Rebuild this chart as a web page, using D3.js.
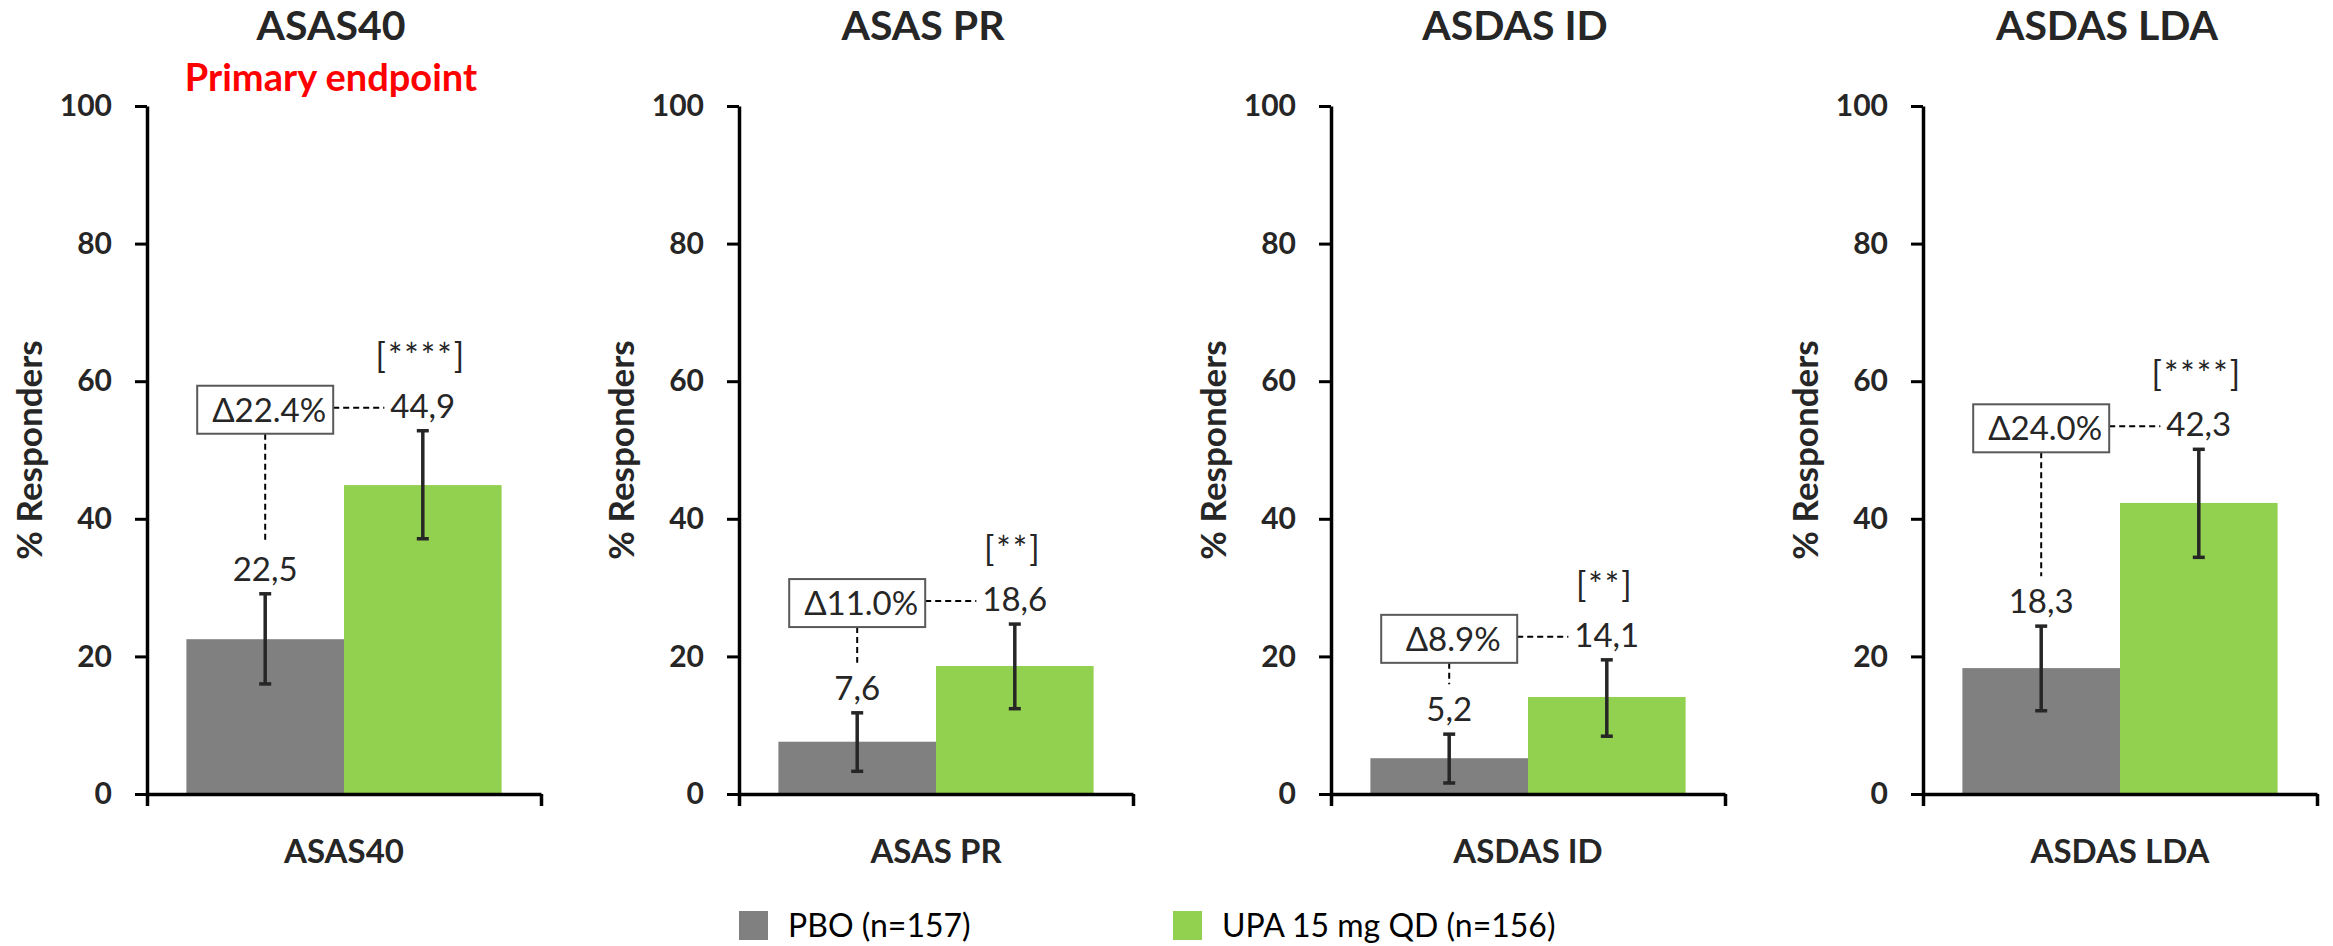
<!DOCTYPE html>
<html><head><meta charset="utf-8">
<script src="https://cdn.jsdelivr.net/npm/d3@7"></script>
<style>
body{margin:0;background:#fff}
svg{display:block}
text{font-family:Lato,"Open Sans",sans-serif}
</style>
</head><body>
<svg id="chart" width="2333" height="946"></svg>
<script>
// ---------- data ----------
const categories = ["ASAS40", "ASAS PR", "ASDAS ID", "ASDAS LDA"];
const subtitles = ["Primary endpoint", "", "", ""];
const seriesKeys = ["PBO", "UPA"];
const seriesNames = ["PBO (n=157)", "UPA 15 mg QD (n=156)"];
const pboValues = [22.5, 7.6, 5.2, 18.3];
const upaValues = [44.9, 18.6, 14.1, 42.3];
const pboLower = [16.0, 3.3, 1.6, 12.1];
const pboUpper = [29.1, 11.8, 8.7, 24.4];
const upaLower = [37.1, 12.4, 8.4, 34.4];
const upaUpper = [52.8, 24.7, 19.5, 50.1];
const deltaLabels = ["\u039422.4%", "\u039411.0%", "\u03948.9%", "\u039424.0%"];
const significance = ["[****]", "[**]", "[**]", "[****]"];
const yTicks = [0, 20, 40, 60, 80, 100];
const yTitle = "% Responders";

// ---------- layout ----------
const svg = d3.select("#chart");
const txt = "#262626";
const colors = {PBO: "#808080", UPA: "#92D050"};
const y = d3.scaleLinear().domain([0, 100]).range([794, 106]);
const panelLeft = 147, panelStep = 592, plotW = 394;
const fmt = v => d3.format(".1f")(v).replace(".", ",");

svg.append("rect").attr("width", 2333).attr("height", 946).attr("fill", "#fff");

categories.forEach((cat, i) => {
  const x0 = panelLeft + i * panelStep;
  const g = svg.append("g");
  const xBand = d3.scaleBand().domain([cat]).range([x0, x0 + plotW]).paddingOuter(0.125).paddingInner(0);
  const xSeries = d3.scaleBand().domain(seriesKeys).range([xBand(cat), xBand(cat) + xBand.bandwidth()]);

  const rows = [
    {key: "PBO", v: pboValues[i], lo: pboLower[i], hi: pboUpper[i]},
    {key: "UPA", v: upaValues[i], lo: upaLower[i], hi: upaUpper[i]}
  ];

  // bars
  g.selectAll("rect.bar").data(rows).join("rect")
    .attr("class", "bar")
    .attr("x", d => xSeries(d.key))
    .attr("width", xSeries.bandwidth())
    .attr("y", d => y(d.v))
    .attr("height", d => y(0) - y(d.v))
    .attr("fill", d => colors[d.key]);

  // error bars
  const cx = d => xSeries(d.key) + xSeries.bandwidth() / 2;
  const eb = g.selectAll("g.eb").data(rows).join("g").attr("class", "eb")
    .attr("stroke", "#262626").attr("stroke-width", 3.5);
  eb.append("line").attr("x1", cx).attr("x2", cx).attr("y1", d => y(d.lo)).attr("y2", d => y(d.hi));
  eb.append("line").attr("x1", d => cx(d) - 6).attr("x2", d => cx(d) + 6).attr("y1", d => y(d.lo)).attr("y2", d => y(d.lo));
  eb.append("line").attr("x1", d => cx(d) - 6).attr("x2", d => cx(d) + 6).attr("y1", d => y(d.hi)).attr("y2", d => y(d.hi));

  // y axis
  const yAxis = d3.axisLeft(y).tickValues(yTicks).tickSize(12).tickPadding(23).tickSizeOuter(0);
  const ya = g.append("g").attr("transform", `translate(${x0},0)`).call(yAxis);
  ya.select(".domain").attr("stroke", "#000").attr("stroke-width", 3.5);
  ya.selectAll(".tick line").attr("stroke", "#000").attr("stroke-width", 3);
  ya.selectAll(".tick text").attr("fill", txt).attr("font-size", 30).attr("font-weight", 700)
    .attr("font-family", "Lato");

  // x axis (edge ticks)
  const xl = d3.scaleLinear().domain([0, 1]).range([x0, x0 + plotW]);
  const xa = g.append("g").attr("transform", `translate(0,${y(0)})`)
    .call(d3.axisBottom(xl).tickValues([0, 1]).tickSize(12).tickSizeOuter(0).tickFormat(""));
  xa.select(".domain").attr("stroke", "#000").attr("stroke-width", 3.5);
  xa.selectAll(".tick line").attr("stroke", "#000").attr("stroke-width", 3.5);

  // category label
  g.append("text").attr("x", xBand(cat) + xBand.bandwidth() / 2).attr("y", 863)
    .attr("text-anchor", "middle").attr("font-size", 33).attr("font-weight", 700).attr("fill", txt)
    .text(cat);

  // titles
  g.append("text").attr("x", x0 + 184).attr("y", 40)
    .attr("text-anchor", "middle").attr("font-size", 41).attr("font-weight", 700).attr("fill", txt)
    .text(cat);
  if (subtitles[i]) {
    g.append("text").attr("x", x0 + 184).attr("y", 91)
      .attr("text-anchor", "middle").attr("font-size", 38).attr("font-weight", 700).attr("fill", "#FF0000")
      .text(subtitles[i]);
  }

  // y title
  g.append("text").attr("transform", `translate(${x0 - 119},${y(50)}) rotate(-90)`)
    .attr("text-anchor", "middle").attr("dominant-baseline", "central")
    .attr("font-size", 35).attr("font-weight", 700).attr("fill", txt)
    .text(yTitle);

  // value labels
  const pbo = rows[0], upa = rows[1];
  const pboBase = y(pbo.hi) - 13, upaBase = y(upa.hi) - 13;
  g.append("text").attr("x", cx(pbo)).attr("y", pboBase).attr("text-anchor", "middle")
    .attr("font-size", 33).attr("fill", txt).text(fmt(pbo.v));
  const upaLabel = g.append("text").attr("x", cx(upa)).attr("y", upaBase).attr("text-anchor", "middle")
    .attr("font-size", 33).attr("fill", txt).text(fmt(upa.v));
  g.append("text").attr("x", cx(upa) - 2).attr("y", upaBase - 50).attr("text-anchor", "middle")
    .attr("font-size", 34).attr("letter-spacing", 2).attr("fill", txt).text(significance[i]);

  // delta annotation
  const boxCx = cx(pbo), boxCy = upaBase - 8, bw = 136, bh = 48;
  const labelLeft = cx(upa) - upaLabel.node().getComputedTextLength() / 2;
  g.append("line").attr("x1", boxCx + bw / 2).attr("x2", labelLeft - 6)
    .attr("y1", boxCy - 2).attr("y2", boxCy - 2)
    .attr("stroke", "#000").attr("stroke-width", 2).attr("stroke-dasharray", "6,4");
  g.append("line").attr("x1", boxCx).attr("x2", boxCx)
    .attr("y1", boxCy + bh / 2).attr("y2", pboBase - 37)
    .attr("stroke", "#000").attr("stroke-width", 2).attr("stroke-dasharray", "6,4");
  g.append("rect").attr("x", boxCx - bw / 2).attr("y", boxCy - bh / 2).attr("width", bw).attr("height", bh)
    .attr("fill", "#fff").attr("stroke", "#595959").attr("stroke-width", 2);
  g.append("text").attr("x", boxCx + 4).attr("y", boxCy + 12).attr("text-anchor", "middle")
    .attr("font-size", 33).attr("fill", txt).text(deltaLabels[i]);
});

// legend
const legendX = [739, 1173];
const lg = svg.append("g");
seriesKeys.forEach((k, j) => {
  lg.append("rect").attr("x", legendX[j]).attr("y", 911).attr("width", 29).attr("height", 29).attr("fill", colors[k]);
  lg.append("text").attr("x", legendX[j] + 49).attr("y", 937).attr("font-size", 32).attr("fill", "#000")
    .text(seriesNames[j]);
});
</script>
</body></html>
